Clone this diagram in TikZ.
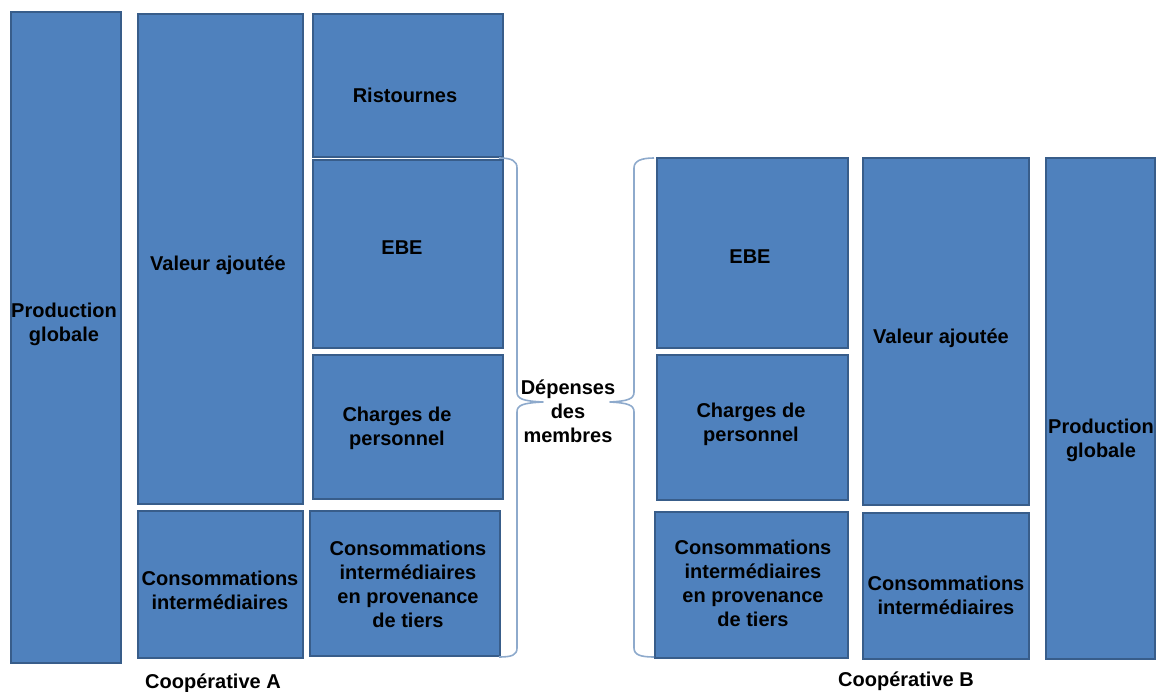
\documentclass[tikz,border=0pt]{standalone}
\usepackage{fontspec}
\setmainfont{Liberation Sans}
\begin{document}
\begin{tikzpicture}[x=0.75pt,y=-0.75pt,
  box/.style={draw=boxedge,fill=boxfill,line width=1.8pt,inner sep=0pt},
  lbl/.style={align=center,font=\bfseries\fontsize{15}{18}\selectfont,text=black,inner sep=0pt},
  brace/.style={draw=bracecol,line width=1.2pt,line join=round}]
\definecolor{boxfill}{HTML}{4F81BD}
\definecolor{boxedge}{HTML}{385D8A}
\definecolor{bracecol}{HTML}{8EAACC}
\useasboundingbox (0,0) rectangle (1157,692);
\newcommand{\boxat}[5]{\node[box,minimum width=#3*0.75pt,minimum height=#4*0.75pt] (#5) at (#1,#2) {};}
% Cooperative A
\boxat{66}{337.5}{110}{651}{pgA}
\boxat{220.5}{259}{165}{490}{vaA}
\boxat{220.5}{584.5}{165}{147}{ciA}
\boxat{408}{85.5}{190}{143}{ri}
\boxat{408}{254}{190}{188}{ebeA}
\boxat{408}{427}{190}{144}{cpA}
\boxat{405}{583.5}{190}{145}{ctA}
\node[lbl] (tpgA) at (64,324) {Production\\globale};
\node[lbl] (tvaA) at (218,265) {Valeur ajoutée};
\node[lbl] (tciA) at (220,590) {Consommations\\intermédiaires};
\node[lbl] (tri) at (405,95) {Ristournes};
\node[lbl] (tebeA) at (402,248) {EBE};
\node[lbl] (tcpA) at (397,428) {Charges de\\personnel};
\node[lbl] (tctA) at (408,584) {Consommations\\intermédiaires\\en provenance\\de tiers};
\node[lbl] (coopA) at (213,683) {Coopérative A};
% Cooperative B
\boxat{752.5}{253}{191}{190}{ebeB}
\boxat{752.5}{427.5}{191}{145}{cpB}
\boxat{751.5}{585}{193}{146}{ctB}
\boxat{946}{331.5}{166}{347}{vaB}
\boxat{946}{586}{166}{146}{ciB}
\boxat{1100.5}{408.5}{109}{501}{pgB}
\node[lbl] (tebeB) at (750,257) {EBE};
\node[lbl] (tcpB) at (751,424) {Charges de\\personnel};
\node[lbl] (tctB) at (753,583) {Consommations\\intermédiaires\\en provenance\\de tiers};
\node[lbl] (tvaB) at (941,338) {Valeur ajoutée};
\node[lbl] (tciB) at (946,595) {Consommations\\intermédiaires};
\node[lbl] (tpgB) at (1101,440) {Production\\globale};
\node[lbl] (coopB) at (906,681) {Coopérative B};
% braces
\node[lbl] (dep) at (568,411) {Dépenses\\des\\membres};
\draw[brace] (499,158) .. controls (512,158) and (517,161) .. (517,168) -- (517,392)
  .. controls (517,399) and (523,401) .. (543,402)
  .. controls (523,403) and (517,405) .. (517,412) -- (517,648)
  .. controls (517,655) and (512,657) .. (499,657);
\draw[brace] (654,158) .. controls (641,158) and (634,161) .. (634,168) -- (634,392)
  .. controls (634,399) and (628,401) .. (610,402)
  .. controls (628,403) and (634,405) .. (634,412) -- (634,648)
  .. controls (634,655) and (641,657) .. (654,657);
\end{tikzpicture}
\end{document}
